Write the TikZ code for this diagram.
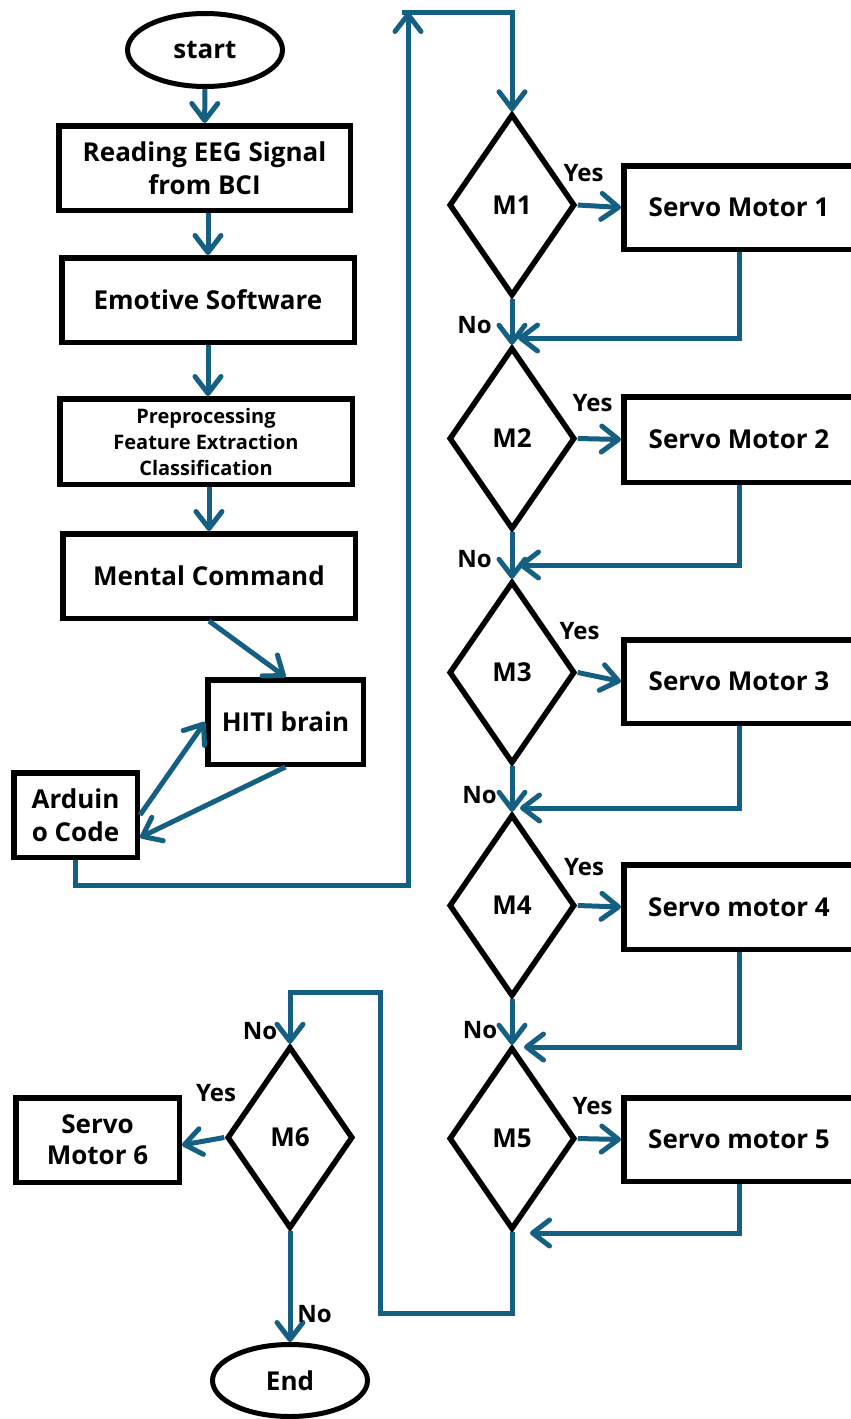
\documentclass[tikz,border=0pt]{standalone}
\usepackage{fontspec}
\setmainfont{Open Sans}
\usetikzlibrary{arrows.meta,shapes.geometric,calc}
\definecolor{flow}{HTML}{156082}
\begin{document}
\begin{tikzpicture}[x=1pt,y=-1pt,
  box/.style={draw=black,line width=5.5pt,rectangle,inner sep=0pt,align=center,
    font=\bfseries\fontsize{26}{33}\selectfont},
  terminal/.style={draw=black,line width=5pt,ellipse,inner sep=0pt,
    minimum width=155pt,minimum height=73pt,font=\bfseries\fontsize{26}{30}\selectfont},
  decision/.style={draw=black,line width=5.5pt,diamond,inner sep=0pt,
    minimum width=126pt,minimum height=182pt,font=\bfseries\fontsize{26}{30}\selectfont},
  flowline/.style={draw=flow,line width=5pt,-{Straight Barb[length=17pt,width=26pt,round]}},
  lbl/.style={inner sep=0pt,font=\bfseries\fontsize{24}{26}\selectfont}
]
\useasboundingbox (0,0) rectangle (851,1419);
\clip (0,0) rectangle (851,1419);

% left column: acquisition and processing
\node[terminal] (start) at (205,50) {start};
\node[box,minimum width=291.5pt,minimum height=84.5pt] (read) at (204.5,168) {Reading EEG Signal\\from BCI};
\node[box,minimum width=292.5pt,minimum height=84.5pt] (emo) at (208,300) {Emotive Software};
\node[box,minimum width=292.5pt,minimum height=85.5pt,font=\bfseries\fontsize{20}{26}\selectfont] (pre) at (206,441.5)
  {Preprocessing\\Feature Extraction\\Classification};
\node[box,minimum width=292.5pt,minimum height=84.5pt] (mental) at (209,576) {Mental Command};
\node[box,minimum width=155.5pt,minimum height=84.5pt] (hiti) at (285.5,722) {HITI brain};
\node[box,minimum width=123.5pt,minimum height=84.5pt] (ard) at (75.5,815) {Arduin\\o Code};

% right column: motor decisions
\node[decision] (m1) at (512,205) {M1};
\node[decision] (m2) at (512,438.5) {M2};
\node[decision] (m3) at (512,672.5) {M3};
\node[decision] (m4) at (512,905.5) {M4};
\node[decision] (m5) at (512,1138.5) {M5};
\node[decision] (m6) at (290,1137.5) {M6};

\node[box,minimum width=230.5pt,minimum height=83.5pt] (s1) at (739,207.5) {Servo Motor 1};
\node[box,minimum width=230.5pt,minimum height=85.5pt] (s2) at (739,439.5) {Servo Motor 2};
\node[box,minimum width=230.5pt,minimum height=83.5pt] (s3) at (739,681.5) {Servo Motor 3};
\node[box,minimum width=230.5pt,minimum height=84.5pt] (s4) at (739,907) {Servo motor 4};
\node[box,minimum width=230.5pt,minimum height=83.5pt] (s5) at (739,1139.5) {Servo motor 5};
\node[box,minimum width=163.5pt,minimum height=84.5pt,font=\bfseries\fontsize{26}{31}\selectfont] (s6) at (97.5,1140) {Servo\\Motor 6};

\node[terminal,minimum height=72pt] (end) at (290,1380.5) {End};

% routing points
\coordinate (lpA) at (408,885);
\coordinate (lpTop) at (408,12);
\coordinate (lpL) at (402,12);
\coordinate (r1) at (518,338);
\coordinate (r2) at (519,565);
\coordinate (r3) at (520,808);
\coordinate (r4) at (524,1047);
\coordinate (r5) at (530,1233);
\coordinate (lb) at (380,1313);
\coordinate (lt) at (380,992);

% connectors, left column
\draw[flowline] (start) -- (read);
\draw[flowline] (emo.north |- read.south) -- (emo.north);
\draw[flowline] (emo.south) -- (emo.south |- pre.north);
\draw[flowline] (pre.south -| mental.north) -- (mental.north);
\draw[flowline] (mental.south) -- (hiti.north);
\draw[flowline] (ard.east) -- (hiti.west);
\draw[flowline] (hiti.south) -- ($(ard.east)!0.5!(ard.south east)$);
\draw[flowline] (ard.south) |- (lpA) -- (lpTop);
\draw[flowline] (lpL) -| (m1.north);

% connectors, decision chain
\foreach \i/\j in {1/2,2/3,3/4,4/5}
  \draw[flowline] (m\i.south) -- (m\j.north);
\foreach \i in {1,...,5}{
  \draw[flowline] (m\i.east) -- (s\i.west);
  \draw[flowline] (s\i.south) |- (r\i);
}
\draw[flowline] (m5.south) |- (lb) -- (lt) -| (m6.north);
\draw[flowline] (m6.west) -- ([yshift=-5pt]s6.east);
\draw[flowline] (m6.south) -- (end.north);

% branch labels
\node[lbl] (y1) at (583.5,173) {Yes};
\node[lbl] (y2) at (592.5,403.5) {Yes};
\node[lbl] (y3) at (579.5,631.5) {Yes};
\node[lbl] (y4) at (584,867.5) {Yes};
\node[lbl] (y5) at (592.5,1106.5) {Yes};
\node[lbl] (y6) at (216,1093.5) {Yes};
\node[lbl] (n1) at (474.5,325) {No};
\node[lbl] (n2) at (474.5,559) {No};
\node[lbl] (n3) at (479.5,795) {No};
\node[lbl] (n4) at (480,1030.5) {No};
\node[lbl] (n5) at (260,1031) {No};
\node[lbl] (n6) at (314.5,1314) {No};
\end{tikzpicture}
\end{document}
